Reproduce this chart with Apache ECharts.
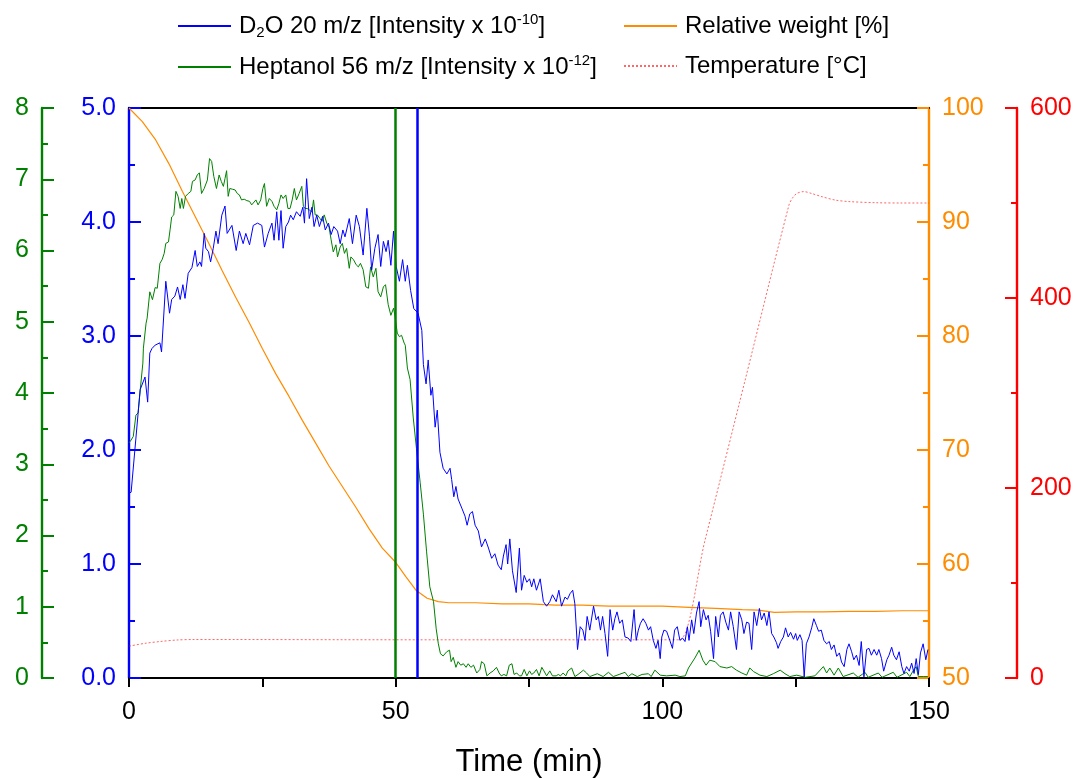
<!DOCTYPE html>
<html><head><meta charset="utf-8">
<script src="https://cdn.jsdelivr.net/npm/echarts@6/dist/echarts.min.js"></script>
<style>html,body{margin:0;padding:0;background:#fff}#c{width:1078px;height:778px}</style>
</head><body><div id="c"></div>
<script>
// ---- data: [time (min), value] ----
const d2oData = [[0,1.62],[0.4,1.63],[1.1,2.0],[2.1,2.53],[3.0,2.64],[3.5,2.42],[3.9,2.85],[4.3,2.89],[4.9,2.92],[5.8,2.94],[6.1,2.86],[6.9,3.48],[7.6,3.2],[8.0,3.32],[8.6,3.35],[9.1,3.43],[9.6,3.32],[10.1,3.45],[10.5,3.33],[11.1,3.55],[11.8,3.6],[12.4,3.75],[12.8,3.61],[13.3,3.65],[13.6,3.61],[14.1,3.9],[14.4,3.77],[14.9,3.74],[15.3,3.65],[15.8,3.77],[16.3,3.92],[16.7,3.81],[17.4,4.06],[18.0,4.14],[18.4,3.9],[19.3,3.97],[20.1,3.75],[20.7,3.92],[21.4,3.81],[21.9,3.9],[22.6,3.8],[23.3,3.97],[24.1,3.99],[24.9,3.97],[25.4,3.78],[26.1,3.9],[26.8,3.99],[27.2,3.84],[27.7,4.09],[28.1,3.84],[28.5,4.1],[28.9,3.77],[29.4,3.96],[29.9,4.0],[30.3,4.06],[30.8,4.02],[31.4,4.09],[32.1,4.05],[32.6,4.13],[32.9,3.99],[33.3,4.38],[33.8,4.03],[34.3,4.13],[34.7,3.96],[35.2,4.06],[35.7,3.96],[36.3,4.05],[36.8,3.93],[37.4,3.99],[37.9,3.89],[38.4,3.96],[39.1,3.92],[39.6,3.81],[40.1,3.93],[40.5,3.87],[41.3,4.03],[41.9,3.81],[42.6,4.06],[43.2,3.96],[43.9,3.71],[44.6,4.12],[45.1,3.87],[45.5,3.58],[46.1,3.77],[46.7,3.89],[47.2,3.61],[47.7,3.83],[48.2,3.74],[48.6,3.84],[49.1,3.62],[49.6,3.92],[50.1,3.61],[50.7,3.48],[51.3,3.67],[51.8,3.48],[52.2,3.62],[52.8,3.40],[53.4,3.24],[54.2,3.2],[54.9,3.05],[55.2,2.75],[55.7,2.58],[56.1,2.79],[56.6,2.48],[56.9,2.55],[57.4,2.20],[57.8,2.35],[58.3,1.98],[58.9,1.84],[59.6,1.79],[60.2,1.84],[60.5,1.74],[60.9,1.59],[61.3,1.68],[61.7,1.57],[62.4,1.49],[63.0,1.42],[63.4,1.34],[63.9,1.44],[64.4,1.46],[64.9,1.34],[65.5,1.29],[66.1,1.15],[66.8,1.22],[67.4,1.14],[68.0,1.05],[68.6,1.09],[69.2,0.99],[69.8,0.95],[70.2,1.07],[70.7,1.17],[71.0,1.00],[71.4,1.22],[71.9,0.94],[72.6,0.75],[73.2,1.14],[73.6,0.77],[74.1,0.90],[74.6,0.84],[75.1,0.87],[75.5,0.80],[75.9,0.87],[76.4,0.77],[77.1,0.87],[77.7,0.67],[78.3,0.63],[78.9,0.67],[79.4,0.73],[80.1,0.67],[80.6,0.77],[81.1,0.63],[81.75,0.71],[82.2,0.69],[82.7,0.74],[83.2,0.77],[83.6,0.65],[84.1,0.25],[84.6,0.45],[85.1,0.42],[85.5,0.33],[85.9,0.54],[86.4,0.42],[87.1,0.63],[87.6,0.51],[88.0,0.54],[88.4,0.42],[88.8,0.54],[89.25,0.39],[89.75,0.19],[90.2,0.6],[90.7,0.42],[91.1,0.52],[91.5,0.58],[92,0.48],[92.5,0.51],[93,0.36],[93.6,0.35],[94.1,0.32],[94.7,0.6],[95.1,0.33],[95.5,0.42],[95.9,0.48],[96.4,0.52],[96.9,0.48],[97.4,0.42],[97.8,0.45],[98.3,0.33],[98.8,0.26],[99.2,0.33],[99.6,0.17],[99.9,0.36],[100.3,0.42],[100.8,0.41],[101.4,0.33],[101.9,0.26],[102.3,0.42],[102.8,0.45],[103.3,0.33],[103.8,0.35],[104.25,0.32],[104.7,0.45],[105,0.33],[105.5,0.51],[105.9,0.39],[106.4,0.57],[106.9,0.67],[107.2,0.45],[107.7,0.6],[108.2,0.51],[108.6,0.55],[109.05,0.41],[109.6,0.17],[110,0.54],[110.5,0.36],[110.9,0.55],[111.4,0.58],[111.9,0.49],[112.4,0.42],[112.8,0.58],[113.3,0.45],[113.9,0.25],[114.4,0.58],[114.9,0.51],[115.3,0.39],[115.8,0.49],[116.25,0.48],[116.75,0.25],[117.2,0.58],[117.7,0.46],[118.2,0.61],[118.6,0.51],[119.1,0.57],[119.6,0.46],[120,0.58],[120.5,0.39],[120.9,0.36],[121.4,0.31],[121.7,0.26],[122.2,0.32],[122.7,0.36],[123.1,0.44],[123.6,0.36],[124.05,0.40],[124.6,0.34],[125,0.39],[125.3,0.33],[125.8,0.38],[126.2,0.33],[126.6,0.01],[127,0.30],[127.5,0.36],[128,0.44],[128.4,0.52],[128.9,0.46],[129.3,0.41],[129.8,0.42],[130.3,0.33],[130.8,0.30],[131.3,0.32],[131.7,0.25],[132.2,0.29],[132.7,0.19],[133.2,0.22],[133.6,0.14],[134.1,0.10],[134.6,0.25],[135,0.30],[135.5,0.23],[135.9,0.16],[136.4,0.20],[136.9,0.11],[137.3,0.32],[137.8,0.01],[138.3,0.25],[138.75,0.26],[139.2,0.20],[139.7,0.25],[140.2,0.20],[140.6,0.25],[141.1,0.17],[141.5,0.06],[142.1,0.16],[142.5,0.20],[143,0.27],[143.4,0.20],[143.9,0.16],[144.4,0.23],[144.9,0.10],[145.3,0.04],[145.8,0.10],[146.3,0.06],[146.75,0.13],[147.2,0.04],[147.6,0.17],[148,0.03],[148.4,0.22],[148.9,0.30],[149.4,0.16],[149.8,0.25]];

const heptanolData = [[0,3.3],[0.4,3.34],[0.8,3.39],[1.3,3.69],[1.7,3.72],[2.1,4.04],[2.6,4.42],[2.7,4.63],[3.2,4.98],[3.4,5.05],[3.9,5.42],[4.4,5.31],[4.9,5.48],[5.3,5.47],[5.8,5.82],[6.2,5.87],[6.6,5.96],[6.9,6.1],[7.4,6.12],[7.7,6.29],[8.0,6.47],[8.4,6.5],[8.8,6.83],[9.2,6.76],[9.6,6.59],[9.9,6.73],[10.2,6.59],[10.6,6.76],[11.1,6.8],[11.6,6.83],[11.9,6.97],[12.4,6.99],[12.8,7.06],[13.2,7.09],[13.6,6.8],[14.1,6.87],[14.4,6.87],[14.7,6.99],[15.1,7.29],[15.5,7.25],[15.9,7.04],[16.4,6.87],[16.9,7.06],[17.3,6.97],[17.7,6.9],[18.0,7.01],[18.3,7.12],[18.6,6.76],[18.9,6.87],[19.4,6.86],[19.9,6.85],[20.3,6.8],[20.7,6.78],[21.1,6.71],[21.6,6.72],[22.1,6.7],[22.6,6.69],[23.0,6.64],[23.3,6.66],[23.8,6.71],[24.2,6.64],[24.7,6.71],[25.1,6.87],[25.4,6.94],[25.8,6.62],[26.3,6.73],[26.8,6.69],[27.2,6.62],[27.7,6.57],[28.1,6.66],[28.5,6.78],[28.9,6.73],[29.4,6.78],[29.8,6.59],[30.2,6.59],[30.6,6.71],[31.0,6.87],[31.4,6.71],[31.9,6.8],[32.4,6.9],[32.7,6.62],[33.0,6.59],[33.4,6.59],[33.8,6.57],[34.3,6.54],[34.6,6.71],[34.9,6.5],[35.3,6.5],[35.8,6.45],[36.2,6.41],[36.6,6.5],[37.1,6.38],[37.5,6.33],[37.9,6.15],[38.3,5.98],[38.8,6.08],[39.1,5.91],[39.6,6.05],[40.0,6.1],[40.4,5.96],[40.8,6.03],[41.3,5.75],[41.6,5.91],[42.1,5.87],[42.6,5.8],[43.0,5.77],[43.4,5.82],[43.9,5.73],[44.4,5.49],[44.9,5.47],[45.3,5.77],[45.8,5.63],[46.3,5.75],[46.7,5.42],[47.2,5.35],[47.7,5.49],[48.1,5.52],[48.6,5.24],[49.1,5.09],[49.6,5.19],[49.9,5.07],[50.3,4.84],[50.7,4.79],[51.1,4.81],[51.6,4.7],[51.8,4.67],[52.2,4.35],[52.7,4.19],[53.3,3.65],[53.9,3.22],[54.6,2.74],[55.2,2.30],[55.8,1.77],[56.4,1.28],[57.1,1.07],[57.6,0.69],[58.0,0.48],[58.4,0.34],[58.9,0.31],[59.6,0.37],[60.1,0.39],[60.4,0.23],[60.8,0.29],[61.3,0.15],[61.7,0.23],[62.2,0.18],[62.7,0.2],[63.2,0.15],[63.6,0.2],[64.1,0.15],[64.6,0.18],[65.2,0.07],[65.8,0.12],[66.1,0.23],[66.6,0.2],[67.1,0.03],[67.7,0.07],[68.3,0.1],[68.9,0.15],[69.4,0.07],[69.8,0.03],[70.3,0.05],[70.8,0.03],[71.3,0.18],[71.8,0.2],[72.2,0.05],[72.7,0.07],[73.2,0.03],[73.6,0.03],[74.1,0.12],[74.6,0.03],[75.1,0.1],[75.5,0.05],[75.9,0.07],[76.4,0.12],[76.9,0.03],[77.4,0.15],[77.8,0.1],[78.3,0.03],[78.9,0.1],[79.4,0.03],[80.1,0.03],[80.5,0.05],[80.9,0.03],[81.4,0.07],[81.9,0.03],[82.3,0.1],[83.0,0.14],[83.6,0.02],[84.2,0.05],[85.2,0.11],[85.8,0.07],[86.4,0.02],[87.8,0.06],[88.9,0.02],[89.9,0.08],[90.8,0.02],[91.9,0.05],[93.0,0.08],[93.6,0.02],[94.3,0.06],[95.3,0.02],[96.2,0.05],[97.4,0.06],[97.9,0.02],[98.6,0.11],[99.6,0.04],[100.8,0.03],[102.4,0.04],[103.3,0.02],[104.3,0.03],[104.9,0.14],[105.5,0.21],[106.1,0.28],[106.9,0.39],[107.6,0.25],[108.2,0.18],[108.9,0.25],[109.9,0.23],[110.8,0.16],[112.1,0.14],[113.0,0.16],[113.9,0.11],[114.9,0.07],[115.8,0.04],[116.4,0.14],[117.1,0.09],[118.3,0.04],[119.6,0.02],[120.8,0.06],[122.1,0.11],[123.0,0.06],[123.9,0.02],[125.2,0.04],[126.8,0.01],[128.6,0.03],[130.2,0.16],[130.8,0.07],[131.4,0.14],[132.2,0.04],[133.0,0.14],[133.9,0.02],[135.8,0.07],[136.7,0.01],[138.0,0.08],[138.6,0.01],[140.5,0.07],[141.2,0.01],[143.3,0.08],[144.0,0.01],[145.8,0.08],[146.4,0.02],[147.1,0.11],[147.6,0.16],[148.0,0.02],[148.9,0.02],[149.8,0.02]];

const weightData = [[0,100],[2.5,98.8],[5,97.2],[7.5,95.1],[10,92.7],[12.5,90.4],[15,88.1],[17.5,85.7],[20,83.4],[22.5,81.2],[25,78.9],[27.5,76.7],[30,74.7],[32.5,72.6],[35,70.6],[37.5,68.6],[40,66.8],[42.5,65.0],[45,63.1],[47.5,61.4],[49.9,60.2],[51.9,58.9],[53.8,57.7],[55.9,57.0],[58,56.7],[60,56.6],[65,56.6],[70,56.5],[75,56.5],[80,56.4],[85,56.4],[90,56.3],[95,56.3],[100,56.3],[105,56.2],[110,56.1],[115,56.0],[118,55.95],[121,55.75],[125,55.8],[130,55.8],[135,55.85],[140,55.85],[145,55.9],[150,55.9]];

const temperatureData = [[0,33.5],[3,36.5],[6,38.5],[9,40],[12,40.5],[20,40.5],[40,40.3],[60,40.2],[80,40.2],[100,40.2],[103.2,40.2],[108,145],[115.5,313],[123.75,498],[124.5,506],[125.2,510],[126.5,512],[128,510],[130,506.5],[132.5,503],[135,501.5],[140,500.3],[145,500],[150,500]];

const markerHeptanol = 50;   // vertical green marker (min)
const markerD2O = 54;        // vertical blue marker (min)

const C = {blue:'#0000ff', green:'#008000', orange:'#ff8c00', red:'#ff0000'};
const FONT = '"Liberation Sans", Arial, Helvetica, sans-serif';

const legendLabels = {
  D2O: '{t|D}{sub|2}{t|O 20 m/z [Intensity x 10}{sup|-10}{t|]}',
  Heptanol: '{t|Heptanol 56 m/z [Intensity x 10}{sup|-12}{t|]}',
  Weight: '{t|Relative weight [%]}',
  Temp: '{t|Temperature [°C]}'
};
const rich = {
  t: {fontSize: 24, fontFamily: FONT, color: '#000', lineHeight: 28},
  sup: {fontSize: 15, fontFamily: FONT, color: '#000', lineHeight: 15, verticalAlign: 'top'},
  sub: {fontSize: 15, fontFamily: FONT, color: '#000', lineHeight: 15, verticalAlign: 'bottom'}
};
function legendOpt(names, left, top, gap) {
  return {
    data: names, orient: 'vertical', left: left, top: top,
    itemWidth: 53, itemHeight: 14, itemGap: gap,
    formatter: n => legendLabels[n],
    itemStyle: {opacity: 0, borderWidth: 0},
    textStyle: {padding: [0, 0, 0, 3], rich: rich},
    selectedMode: false
  };
}
function yAx(color, pos, offset, min, max, interval, fmt) {
  return {
    type: 'value', position: pos, offset: offset, min: min, max: max, interval: interval,
    axisLine: {show: true, onZero: false, lineStyle: {color: color, width: 2.4}},
    axisTick: {show: true, inside: true, length: 12, lineStyle: {color: color, width: 2}},
    minorTick: {show: true, splitNumber: 2, length: 6, lineStyle: {color: color, width: 2}},
    axisLabel: {color: color, fontSize: 25, fontFamily: FONT, margin: 13, formatter: fmt},
    splitLine: {show: false}
  };
}
const chart = echarts.init(document.getElementById('c'), null, {renderer: 'canvas'});
chart.setOption({
  animation: false,
  backgroundColor: '#fff',
  grid: {left: 129, right: 149, top: 108, bottom: 100, containLabel: false, outerBoundsMode: 'none'},
  legend: [legendOpt(['D2O', 'Heptanol'], 172, 7, 13), legendOpt(['Weight', 'Temp'], 618, 9, 16)],
  xAxis: [{
    type: 'value', min: 0, max: 150, interval: 50, position: 'bottom',
    name: 'Time (min)', nameLocation: 'middle', nameGap: 84,
    nameTextStyle: {fontSize: 31, fontFamily: FONT, color: '#000', verticalAlign: 'middle'},
    axisLine: {show: true, onZero: false, lineStyle: {color: '#000', width: 2}},
    axisTick: {show: true, inside: false, length: 9, lineStyle: {color: '#000', width: 2}},
    minorTick: {show: true, splitNumber: 2, length: 9, lineStyle: {color: '#000', width: 2}},
    axisLabel: {color: '#000', fontSize: 25, fontFamily: FONT, margin: 22},
    splitLine: {show: false}
  }, {
    type: 'value', min: 0, max: 150, position: 'top',
    axisLine: {show: true, onZero: false, lineStyle: {color: '#000', width: 2}},
    axisTick: {show: false}, axisLabel: {show: false}, splitLine: {show: false}
  }],
  yAxis: [
    yAx(C.blue, 'left', 0, 0, 5, 1, v => v.toFixed(1)),
    yAx(C.green, 'left', 87, 0, 8, 1, v => String(v)),
    yAx(C.orange, 'right', 0, 50, 100, 10, v => String(v)),
    yAx(C.red, 'right', 88, 0, 600, 200, v => String(v))
  ],
  series: [
    {name: 'Weight', type: 'line', yAxisIndex: 2, data: weightData, symbol: 'none',
     lineStyle: {color: C.orange, width: 1.2}, itemStyle: {color: C.orange}, z: 2},
    {name: 'Temp', type: 'line', yAxisIndex: 3, data: temperatureData, symbol: 'none', smooth: 0.3,
     lineStyle: {color: C.red, width: 1, type: [2, 2], opacity: 0.6}, itemStyle: {color: C.red}, z: 2},
    {name: 'Heptanol', type: 'line', yAxisIndex: 1, data: heptanolData, symbol: 'none',
     lineStyle: {color: C.green, width: 1}, itemStyle: {color: C.green}, z: 3,
     markLine: {silent: true, symbol: ['none', 'none'], label: {show: false},
       lineStyle: {color: C.green, width: 2.5, type: 'solid'}, data: [{xAxis: markerHeptanol}]}},
    {name: 'D2O', type: 'line', yAxisIndex: 0, data: d2oData, symbol: 'none',
     lineStyle: {color: C.blue, width: 1}, itemStyle: {color: C.blue}, z: 4,
     markLine: {silent: true, symbol: ['none', 'none'], label: {show: false},
       lineStyle: {color: C.blue, width: 2.5, type: 'solid'}, data: [{xAxis: markerD2O}]}}
  ]
});
</script></body></html>
